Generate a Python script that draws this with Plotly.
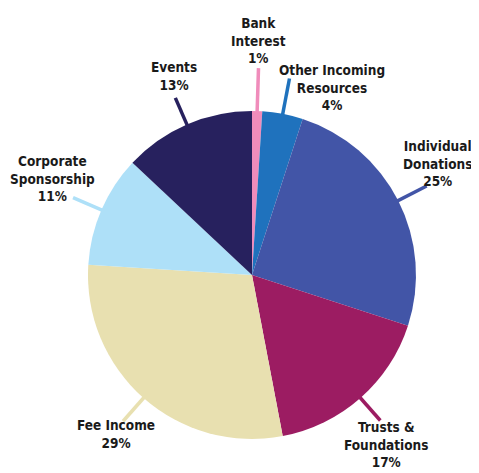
import math
import plotly.graph_objects as go

# ---- data ----
categories = ["Bank Interest", "Other Incoming Resources", "Individual Donations",
              "Trusts & Foundations", "Fee Income", "Corporate Sponsorship", "Events"]
values = [1, 4, 25, 17, 29, 11, 13]
label_lines = [["Bank", "Interest"], ["Other Incoming", "Resources"], ["Individual", "Donations"],
               ["Trusts &", "Foundations"], ["Fee Income"], ["Corporate", "Sponsorship"], ["Events"]]

# ---- style / layout ----
colors = ["#f08cbb", "#1f72bd", "#4255a7", "#9c1c62", "#e8e0b0", "#aee0f8", "#27215e"]
OFF = 8  # page body margin
W, H = 479 - OFF, 473 - OFF
CX, CY, R = 252 - OFF, 275 - OFF, 164
line_end_r = [207, 200, 196, 194, 195, 195, 193]
label_pos = [(258, 41), (332, 87), (437, 164), (386, 444), (116, 434), (52, 179), (174, 76)]

fig = go.Figure(go.Pie(
    labels=categories, values=values, sort=False, direction="clockwise", rotation=0,
    marker=dict(colors=colors, line=dict(width=0)), textinfo="none", hoverinfo="label+percent",
    domain=dict(x=[(CX - R) / W, (CX + R) / W], y=[1 - (CY + R) / H, 1 - (CY - R) / H]),
    showlegend=False,
))

total = sum(values)
cum = 0
shapes = []
annotations = []
font = dict(family="DejaVu Sans Condensed, sans-serif",
            size=13.5, color="#1a1a1a", weight="bold")
for i, v in enumerate(values):
    ang = 2 * math.pi * (cum + v / 2) / total
    cum += v
    sx, sy = math.sin(ang), -math.cos(ang)
    r0, r1 = R - 10, line_end_r[i]
    shapes.append(dict(type="line", xref="paper", yref="paper", layer="below",
                       x0=(CX + r0 * sx) / W, y0=1 - (CY + r0 * sy) / H,
                       x1=(CX + r1 * sx) / W, y1=1 - (CY + r1 * sy) / H,
                       line=dict(color=colors[i], width=3.5)))
    pct = round(100 * v / total)
    text = "<br>".join(label_lines[i] + [f"{pct}%"])
    lx, ly = label_pos[i]
    annotations.append(dict(text=text, x=(lx - OFF) / W, y=1 - (ly - OFF) / H,
                            xref="paper", yref="paper",
                            xanchor="center", yanchor="middle", showarrow=False, align="center",
                            font=font))

fig.update_layout(width=W, height=H, margin=dict(l=0, r=0, t=0, b=0),
                  paper_bgcolor="white", plot_bgcolor="white",
                  shapes=shapes, annotations=annotations)
fig.write_html("out.html")
